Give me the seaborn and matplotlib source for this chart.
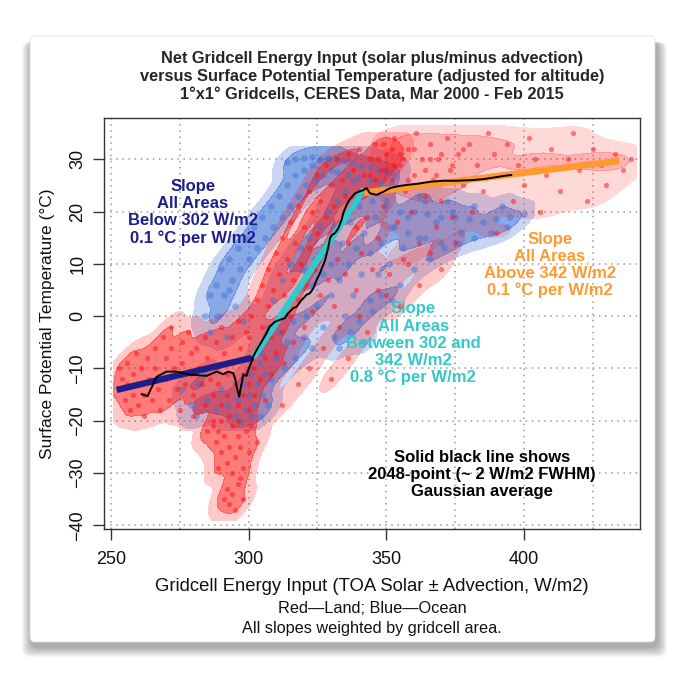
import numpy as np
import pandas as pd
import matplotlib
matplotlib.use("Agg")
import matplotlib.pyplot as plt
import seaborn as sns
from matplotlib.colors import to_rgb, ListedColormap
from matplotlib.patches import FancyBboxPatch

# ---- gridcells (W/m2, degC) ----
land_tail = [(253,-10),(253,-14),(254,-12),(255,-16),(256,-9),(256,-13),(257,-18),(258,-11),(258,-15),(259,-7),
             (260,-13),(260,-17),(261,-10),(262,-15),(262,-19),(263,-8),(264,-12),(265,-16),(266,-6),(266,-10),
             (267,-14),(268,-18),(269,-4),(270,-8),(270,-12),(271,-16),(272,-2),(272,-6),(273,-10),(274,-14),
             (275,-18),(276,-5),(276,-9),(277,-13),(278,-3),(279,-7),(279,-11),(280,-15),(280,-19),(281,-6),
             (282,-10),(283,-13),(284,-17),(284,-4),(285,-8),(286,-12),(287,-15),(287,-20),(288,-5),(288,-10),
             (289,-13),(290,-17),(290,-2),(291,-7),(292,-11),(292,-15),(293,-19),(294,-4),(294,-9),(295,-13),
             (296,-17),(296,-1),(297,-6),(298,-11),(298,-15),(299,-3),(300,-8),(300,-13)]
land_drop = [(285,-22),(287,-21),(288,-24),(289,-22),(290,-26),(291,-23),(292,-28),(293,-25),(294,-21),(294,-30),
             (295,-27),(296,-23),(296,-32),(297,-25),(298,-29),(299,-22),(300,-26),(290,-20),(292,-33),(293,-36),
             (294,-34),(295,-37),(291,-35),(297,-31),(301,-21),(303,-24),(289,-29),(296,-20),(298,-35)]
land_rise = [(300,-18),(300,-4),(301,0),(302,-10),(302,-15),(303,-6),(303,3),(304,-12),(305,-2),(305,6),
             (306,-8),(306,-16),(307,2),(307,9),(308,-4),(308,-11),(309,5),(310,-1),(310,12),(310,-7),
             (311,8),(312,-3),(312,15),(313,4),(313,-9),(314,11),(315,0),(315,18),(316,7),(316,-5),
             (317,14),(318,3),(318,21),(319,10),(320,-2),(320,17),(321,6),(322,13),(322,24),(323,1),
             (323,20),(324,9),(325,16),(325,27),(326,4),(326,22),(327,12),(328,19),(328,29),(329,7),
             (330,15),(330,25),(331,2),(331,21),(332,11),(332,30),(333,18),(334,26),(335,8),(335,23),
             (336,14),(336,31),(337,20),(338,28),(339,5),(339,17),(340,24),(340,32),(341,12),(342,27),
             (343,19),(344,30),(345,9),(345,24),(346,33),(347,15),(348,28),(349,21),(350,31),(350,4),
             (340,0),(343,-3),(347,5),(351,8),(355,2),(358,10),(362,6),(366,12),(370,9),(375,14),
             (322,-10),(327,-6),(333,-2),(336,-8),(312,-17),(318,-13),(330,-12),
             (344,27),(347,30),(350,28),(352,32),(355,31),(346,26),(349,33),(353,29)]
land_warm = [(352,26),(353,34),(354,18),(355,29),(356,11),(357,24),(358,32),(359,20),(360,27),(361,35),
             (362,14),(363,30),(364,23),(366,33),(367,26),(368,17),(369,30),(370,22),(372,34),(373,28),
             (374,19),(376,31),(378,25),(380,33),(381,20),(383,29),(385,24),(387,35),(389,31),(390,16),
             (392,27),(394,33),(396,22),(398,29),(400,25),(402,34),(404,30),(406,20),(408,27),(410,32),
             (413,24),(416,30),(418,35),(420,28),(423,22),(425,32),(428,29),(430,25),(433,31),(436,28),(439,30),
             (356,30),(360,32),(364,28),(358,26),(362,25),(366,30),(370,31),(368,27),(374,29),(378,32)]

ocean_cold = [(295,-19),(296,-16),(297,-20),(298,-13),(299,-18),(300,-15),(301,-11),(301,-19),(302,-17),(303,-13),
              (304,-19),(304,-9),(305,-15),(306,-11),(307,-17),(306,-5),(276,-14),(279,-17),(282,-13),(285,-16),
              (288,-18),(290,-14),(292,-17),(284,-11),(281,-19),(286,-3),(289,0),(292,-4),(295,2),(298,-1),(293,5)]
ocean_band = [(284,0),(286,4),(288,6),(290,9),(291,4),(293,11),(294,7),(296,13),(297,9),(299,15),
              (300,11),(302,17),(303,13),(305,19),(306,15),(308,21),(309,17),(311,23),(312,19),(314,25),
              (315,21),(317,27),(318,23),(320,28),(321,25),(323,29),(324,26),(326,30),(327,27),(329,30),(330,28),
              (314,29.5),(317,30),(320,30.2),(323,30.5),(326,29.8),(329,30.3),(332,30),(335,29.6),(338,29.2),
              (341,28.8),(344,28.5),(347,28),(350,27.5),(353,27),(332,27.5),(336,27),(340,26.5),(344,26),
              (348,25.5),(352,25)]
ocean_rise = [(305,-7),(307,-2),(308,-12),(309,3),(310,-8),(311,-3),(312,7),(313,-10),(313,1),(314,-5),
              (315,10),(316,-1),(317,-8),(318,5),(319,13),(320,-4),(320,9),(321,0),(322,15),(323,-6),
              (323,6),(324,11),(325,2),(326,17),(327,-2),(327,8),(328,13),(329,20),(330,4),(330,10),
              (331,-4),(331,17),(332,22),(333,7),(334,14),(335,0),(335,24),(336,10),(337,18),(338,4),
              (338,26),(339,13),(340,21),(341,8),(342,16),(343,24),(344,3),(344,12),(346,19),(347,8),
              (348,14),(350,22),(351,10),(353,17),(355,6),(356,13),(358,19),(360,9),(362,15),(364,22),
              (366,11),(368,18),(371,13),(374,20),(377,16),(333,-6),(337,-3),(340,-1),(342,-5),(345,1),
              (348,4),(352,3)]
ocean_arm = [(345,22),(350,21),(355,20),(360,20),(365,19.5),(370,19),(375,19),(380,18.5),(385,18),(390,18.5),
             (395,19),(400,19.5),(352,17),(358,16),(364,15),(370,14),(376,14),(382,15),(388,16),(394,17),
             (362,23),(372,22),(382,21),(392,21)]

# 2048-point gaussian average (black line)
avg_x = [261.1, 263.3, 266.6, 270.2, 273.9, 278.7, 284.8, 288.4, 290.8, 292.6, 294.4, 295.1, 295.7,
         296.6, 297.5, 298.1, 299.3, 299.9, 301.1, 301.7, 302.9, 304.7, 306.5, 307.7, 309.5, 311.3,
         313.1, 314.3, 316.1, 317.4, 319.3, 321.1, 322.3, 323.5, 324.7, 325.9, 326.9, 327.8, 328.4,
         329.0, 329.6, 330.2, 331.4, 332.6, 333.8, 334.4, 335.6, 336.6, 337.5, 338.7, 340.0, 341.7,
         342.9, 344.1, 346.5, 349.0, 351.4, 353.8, 357.4, 361.1, 365.9, 370.7, 375.6, 380.4, 385.2,
         390.1, 393.7, 395.5]
avg_y = [-14.9, -15.3, -11.6, -10.6, -10.6, -11.2, -11.4, -10.6, -11.1, -10.6, -10.9, -11.9, -13.5,
         -15.4, -12.8, -11.2, -11.4, -10.3, -8.7, -7.7, -6.5, -4.9, -3.3, -2.0, -1.1, -0.7,
         -0.4, 0.5, 1.5, 1.8, 3.1, 4.1, 4.4, 5.3, 6.9, 8.2, 9.5, 10.7, 12.0,
         13.3, 14.9, 15.5, 15.9, 16.8, 18.4, 19.7, 21.3, 22.2, 22.8, 23.5, 23.8, 24.1,
         24.5, 23.5, 23.2, 23.8, 24.5, 24.8, 25.1, 25.3, 25.7, 25.9, 25.9, 26.0, 26.2,
         26.6, 26.9, 27.0]

# fitted slopes
low_x, low_y = [252.1, 301.7], [-14.1, -7.9]
mid_x, mid_y = [301.7, 342.0], [-7.9, 24.3]
high_x, high_y = [342.0, 434.6], [23.6, 29.7]

RED = "#ff1010"
BLUE = "#3a6fd6"
NAVY = "#1e1e8a"
CYAN = "#33c9c9"
ORANGE = "#ff9a30"

land_core = pd.DataFrame(land_tail + land_drop + land_rise, columns=["x", "y"])
land_hot = pd.DataFrame(land_warm, columns=["x", "y"])
land = pd.DataFrame(land_tail + land_drop + land_rise + land_warm, columns=["x", "y"])
ocean = pd.DataFrame(ocean_cold + ocean_band + ocean_rise + ocean_arm, columns=["x", "y"])

sns.set_theme(style="white")
plt.rcParams['font.family'] = ['Liberation Sans', 'DejaVu Sans']

W, H = 686, 679
fig = plt.figure(figsize=(W / 100, H / 100), dpi=100)
fig.patch.set_facecolor("white")

# card with soft shadow
for i in range(10):
    fig.patches.append(FancyBboxPatch((30 - i + 1, 37 - 6 - i), 625 + 2 * i + 2, 606 + i,
                                      boxstyle="round,pad=0,rounding_size=8", transform=None,
                                      facecolor="black", edgecolor="none", alpha=0.035, zorder=-10))
fig.patches.append(FancyBboxPatch((30, 37), 625, 606, boxstyle="round,pad=0,rounding_size=5",
                                  transform=None, facecolor="white", edgecolor="#dddddd",
                                  linewidth=0.5, zorder=-5))

ax = fig.add_axes([104.3 / W, 1 - 529 / H, (640 - 104.3) / W, (529 - 118) / H])
ax.set_facecolor("white")

for gx in range(250, 441, 25):
    ax.axvline(gx, color="#9a9a9a", lw=1.1, ls=(0, (1, 3)), zorder=0)
for gy in range(-40, 31, 10):
    ax.axhline(gy, color="#9a9a9a", lw=1.1, ls=(0, (1, 3)), zorder=0)


def bands(c, a_out, a_in):
    r, g, b = to_rgb(c)
    return ListedColormap([(r, g, b, a_out), (r, g, b, a_in)])


lims = ((251, 441), (-39, 36.5))
# clouds: flat density bands, then speckle
sns.kdeplot(data=ocean, x="x", y="y", fill=True, levels=[0.03, 0.35, 1.0], cmap=bands(BLUE, 0.28, 0.6),
            bw_adjust=0.32, cut=1, clip=lims, ax=ax, zorder=1)
sns.kdeplot(data=land_hot, x="x", y="y", fill=True, levels=[0.05, 0.5, 1.0], cmap=bands(RED, 0.16, 0.32),
            bw_adjust=0.6, cut=1, clip=lims, ax=ax, zorder=2)
sns.kdeplot(data=land_core, x="x", y="y", fill=True, levels=[0.03, 0.35, 1.0], cmap=bands(RED, 0.22, 0.55),
            bw_adjust=0.3, cut=1, clip=lims, ax=ax, zorder=2)
sns.scatterplot(data=ocean, x="x", y="y", color=BLUE, s=22, alpha=0.45, linewidth=0, ax=ax, legend=False, zorder=3)
sns.scatterplot(data=land, x="x", y="y", color=RED, s=14, alpha=0.5, linewidth=0, ax=ax, legend=False, zorder=4)

sns.lineplot(x=low_x, y=low_y, color=NAVY, lw=4.6, ax=ax, zorder=5, solid_capstyle="butt")
sns.lineplot(x=mid_x, y=mid_y, color=CYAN, lw=4.6, ax=ax, zorder=5, solid_capstyle="butt")
sns.lineplot(x=high_x, y=high_y, color=ORANGE, lw=4.8, ax=ax, zorder=5, solid_capstyle="butt")
sns.lineplot(x=avg_x, y=avg_y, color="black", lw=1.4, ax=ax, zorder=6, sort=False, estimator=None)

ax.set_xlim(247.6, 442.2)
ax.set_ylim(-40.7, 37.9)
ax.set_xticks([250, 300, 350, 400])
ax.set_yticks(range(-40, 31, 10))
ax.set_xlabel("")
ax.set_ylabel("")
ax.tick_params(axis="both", direction="out", length=8, width=1, color="#333333",
               labelsize=13, labelcolor="#111111", bottom=True, left=True)
ax.tick_params(axis="x", pad=8)
ax.tick_params(axis="y", pad=5)
for lab in ax.get_yticklabels():
    lab.set_rotation(90)
    lab.set_va("center")
for sp in ax.spines.values():
    sp.set_visible(True)
    sp.set_color("#333333")
    sp.set_linewidth(1.0)

bold = dict(fontweight="bold", ha="center", va="center", fontsize=12, linespacing=1.17)
ax.text(279.8, 19.8, "Slope\nAll Areas\nBelow 302 W/m2\n0.1 °C per W/m2", color=NAVY, **bold)
ax.text(409.5, 9.8, "Slope\nAll Areas\nAbove 342 W/m2\n0.1 °C per W/m2", color=ORANGE, **bold)
ax.text(359.8, -5.2, "Slope\nAll Areas\nBetween 302 and\n342 W/m2\n0.8 °C per W/m2", color=CYAN, **bold)
ax.text(384.7, -30.2, "Solid black line shows\n2048-point (~ 2 W/m2 FWHM)\nGaussian average", color="black", **bold)

fig.text(372 / W, 1 - 76.5 / H,
         "Net Gridcell Energy Input (solar plus/minus advection)\n"
         "versus Surface Potential Temperature (adjusted for altitude)\n"
         "1°x1° Gridcells, CERES Data, Mar 2000 - Feb 2015",
         ha="center", va="center", fontsize=11.8, fontweight="bold", linespacing=1.28)
fig.text(48 / W, 1 - 323.5 / H, "Surface Potential Temperature (°C)", rotation=90,
         ha="center", va="center", fontsize=12.5, color="#111111")
fig.text(372 / W, 1 - 586.7 / H, "Gridcell Energy Input (TOA Solar ± Advection, W/m2)",
         ha="center", va="center", fontsize=13.3, color="#111111")
fig.text(372 / W, 1 - 608.3 / H, "Red—Land; Blue—Ocean", ha="center", va="center", fontsize=11.7, color="#111111")
fig.text(372 / W, 1 - 628.3 / H, "All slopes weighted by gridcell area.", ha="center", va="center",
         fontsize=11.7, color="#111111")

fig.savefig("out.png", dpi=100)
